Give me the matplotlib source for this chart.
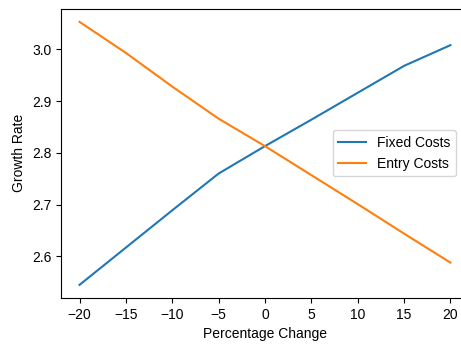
import matplotlib
matplotlib.use('Agg')
import matplotlib.pyplot as plt

plt.rcParams['font.family'] = ['Liberation Sans', 'DejaVu Sans']

# Valeurs
pct_change = [-20, -15, -10, -5, 0, 5, 10, 15, 20]
fixed_costs = [2.545, 2.617, 2.689, 2.760, 2.813, 2.864, 2.916, 2.968, 3.008]
entry_costs = [3.053, 2.993, 2.928, 2.866, 2.813, 2.757, 2.701, 2.644, 2.588]

fig = plt.figure(figsize=(4.61, 3.44), dpi=100)
ax = fig.add_axes([0.1323, 0.1337, 0.885, 0.841])

ax.plot(pct_change, fixed_costs, label='Fixed Costs')
ax.plot(pct_change, entry_costs, label='Entry Costs')

ax.set_xlabel('Percentage Change')
ax.set_ylabel('Growth Rate')
ax.set_xticks(range(-20, 21, 5))
ax.legend(loc='center right', bbox_to_anchor=(0.985, 0.5))

fig.savefig('out.png', dpi=100)
